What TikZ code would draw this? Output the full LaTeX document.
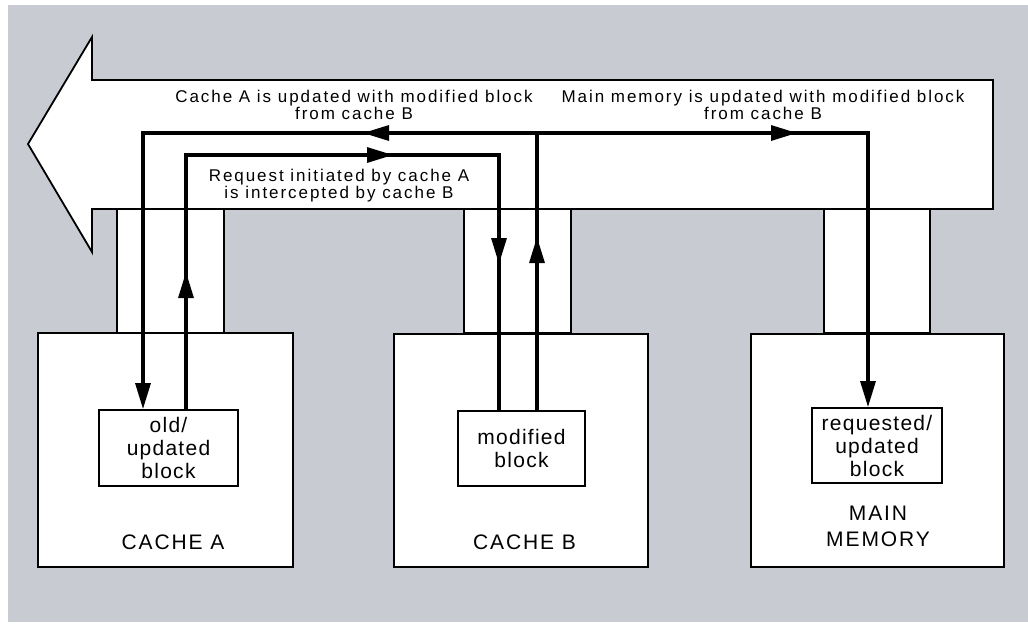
\documentclass[tikz,border=0pt]{standalone}
\usepackage{fontspec}
\setmainfont{Liberation Sans}
\newfontfamily\smallfont[LetterSpace=11.5]{Liberation Sans}
\newfontfamily\bigfont[LetterSpace=6]{Liberation Sans}
\newfontfamily\capfont[LetterSpace=9]{Liberation Sans}
\usetikzlibrary{arrows.meta}
\definecolor{bggray}{RGB}{200,203,209}
\tikzset{
  thinline/.style={line width=1.8pt},
  flow/.style={line width=3.2pt},
  flowtip/.style={line width=3.2pt, -{Triangle[length=26pt,width=15pt]}},
  box/.style={draw, fill=white, line width=1.8pt, inner sep=0pt},
  blk/.style={box, align=center, font=\bigfont\fontsize{21}{23}\selectfont},
  biglbl/.style={inner sep=0pt, align=center, font=\capfont\fontsize{21}{26}\selectfont},
  lbl/.style={inner sep=0pt, align=center, font=\smallfont\fontsize{17}{15.5}\selectfont}
}
\begin{document}
\begin{tikzpicture}[x=1pt,y=-1pt]
\useasboundingbox (0,0) rectangle (1028,625);
\fill[bggray] (8,5) rectangle (1028,622);
% stubs
\draw[thinline, fill=white] (117,209) rectangle (224,333);
\draw[thinline, fill=white] (464,209) rectangle (571,333);
\draw[thinline, fill=white] (824,209) rectangle (930,333);
% bus arrow
\draw[thinline, fill=white] (993,80) -- (92,80) -- (92,37) -- (28,144) -- (92,252) -- (92,209) -- (993,209) -- cycle;
% boxes
\node[box, minimum width=255pt, minimum height=234pt] (cacheA) at (165.5,450) {};
\node[box, minimum width=254pt, minimum height=233pt] (cacheB) at (521,450.5) {};
\node[box, minimum width=253pt, minimum height=233pt] (mem) at (877.5,450.5) {};
\node[biglbl] (labA) at (173,542.5) {CACHE A};
\node[biglbl] (labB) at (524.5,542.5) {CACHE B};
\node[biglbl] (labM) at (878,526.5) {MAIN\\MEMORY};
% blocks
\node[blk, minimum width=139pt, minimum height=76pt] (blockA) at (168.5,448) {old/\\updated\\block};
\node[blk, minimum width=127pt, minimum height=75pt] (blockB) at (521.5,448.5) {modified\\block};
\node[blk, minimum width=130pt, minimum height=75pt] (blockM) at (877,445.5) {requested/\\updated\\block};
% texts
\node[lbl] (t1) at (354,105) {Cache A is updated with modified block\\from cache B};
\node[lbl] (t2) at (763,105) {Main memory is updated with modified block\\from cache B};
\node[lbl] (t3) at (339,186) {Request initiated by cache A\\is intercepted by cache B};
% flow corners
\coordinate (r1) at (186,155);
\coordinate (r2) at (499,155);
\coordinate (s1) at (537,133);
\coordinate (s2) at (143,133);
\coordinate (s3) at (868,133);
% request path
\draw[flow] (blockA.north -| r1) -- (r1) -- (r2) -- (blockB.north -| r2);
% response paths
\draw[flowtip] (blockB.north -| s1) -- (s1) -- (s2) -- (blockA.north -| s2);
\draw[flowtip] (s1) -- (s3) -- (blockM.north -| s3);
% mid arrowheads
\coordinate (a1s) at (186,298); \coordinate (a1e) at (186,272);
\coordinate (a2s) at (367,155); \coordinate (a2e) at (393,155);
\coordinate (a3s) at (499,238); \coordinate (a3e) at (499,264);
\coordinate (a4s) at (537,263); \coordinate (a4e) at (537,237);
\coordinate (a5s) at (389,133); \coordinate (a5e) at (363,133);
\coordinate (a6s) at (771,133); \coordinate (a6e) at (797,133);
\draw[flowtip] (a1s) -- (a1e);
\draw[flowtip] (a2s) -- (a2e);
\draw[flowtip] (a3s) -- (a3e);
\draw[flowtip] (a4s) -- (a4e);
\draw[flowtip] (a5s) -- (a5e);
\draw[flowtip] (a6s) -- (a6e);
\end{tikzpicture}
\end{document}
